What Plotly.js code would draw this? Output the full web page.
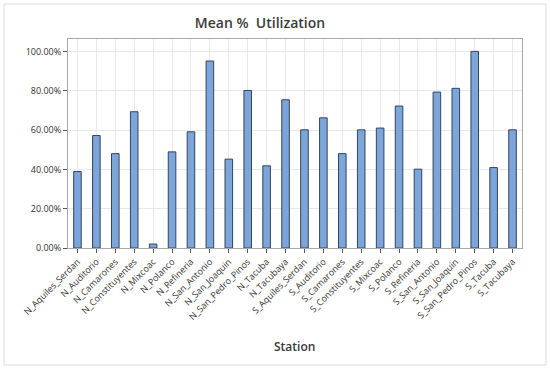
<!DOCTYPE html>
<html>
<head>
<meta charset="utf-8">
<script src="https://cdn.plot.ly/plotly-3.0.1.min.js"></script>
<style>html,body{margin:0;padding:0;background:#fff;}#chart{width:550px;height:369px;}</style>
</head>
<body>
<div id="chart"></div>
<script>
const stations = [
  "N_Aquiles_Serdan","N_Auditorio","N_Camarones","N_Constituyentes","N_Mixcoac","N_Polanco",
  "N_Refineria","N_San_Antonio","N_San_Joaquin","N_San_Pedro_Pinos","N_Tacuba","N_Tacubaya",
  "S_Aquiles_Serdan","S_Auditorio","S_Camarones","S_Constituyentes","S_Mixcoac","S_Polanco",
  "S_Refineria","S_San_Antonio","S_San_Joaquin","S_San_Pedro_Pinos","S_Tacuba","S_Tacubaya"
];
const meanUtilization = [
  38.9, 57.2, 48.0, 69.3, 2.0, 48.9,
  59.1, 95.1, 45.2, 80.1, 41.8, 75.4,
  60.1, 66.2, 48.0, 60.1, 61.0, 72.2,
  40.1, 79.3, 81.2, 100.0, 40.9, 60.1
];
const yTicks = [0, 20, 40, 60, 80, 100];
const yTickLabels = ["0.00%", "20.00%", "40.00%", "60.00%", "80.00%", "100.00%"];

const font = "Open Sans, Noto Sans, DejaVu Sans, sans-serif";

const trace = {
  type: "bar",
  x: stations,
  y: meanUtilization,
  width: 0.4,
  marker: { color: "#7ca5d9", line: { color: "#34445e", width: 1 } },
  hoverinfo: "x+y"
};

const layout = {
  width: 550,
  height: 369,
  margin: { l: 68, r: 28, t: 39, b: 121 },
  paper_bgcolor: "#ffffff",
  plot_bgcolor: "#ffffff",
  showlegend: false,
  font: { family: font, color: "#333333", size: 9 },
  title: {
    text: "Mean %  Utilization",
    font: { family: font, size: 14, color: "#3a3a3a", weight: 600 },
    xref: "container", yref: "container",
    x: 260 / 550, xanchor: "center",
    y: 1 - 23 / 369, yanchor: "middle"
  },
  xaxis: {
    type: "category",
    range: [-0.5, 23.5],
    showgrid: true,
    gridcolor: "#e8e8e8",
    gridwidth: 1,
    showline: true,
    linecolor: "#a8a8a8",
    linewidth: 1,
    mirror: true,
    ticks: "outside",
    ticklen: 4,
    tickcolor: "#555555",
    tickangle: -45,
    tickfont: { family: font, size: 9, color: "#333333" },
    zeroline: false
  },
  yaxis: {
    range: [0, 106.3],
    tickvals: yTicks,
    ticktext: yTickLabels,
    showgrid: true,
    gridcolor: "#e8e8e8",
    gridwidth: 1,
    showline: true,
    linecolor: "#a8a8a8",
    linewidth: 1,
    mirror: true,
    ticks: "outside",
    ticklen: 4,
    tickcolor: "#555555",
    tickfont: { family: font, size: 9, color: "#333333" },
    zeroline: false
  },
  annotations: [
    {
      text: "Station",
      xref: "paper", yref: "paper",
      x: (294 - 68) / 454, y: (248 - 346) / 209,
      xanchor: "center", yanchor: "middle",
      showarrow: false,
      font: { family: font, size: 12, color: "#3a3a3a", weight: 600 }
    }
  ],
  shapes: [
    {
      type: "rect", xref: "paper", yref: "paper",
      x0: (4 - 68) / 454, x1: (546 - 68) / 454,
      y0: (248 - 365) / 209, y1: (248 - 4) / 209,
      line: { color: "#dcdcdc", width: 1 },
      fillcolor: "rgba(0,0,0,0)",
      layer: "below"
    }
  ]
};

Plotly.newPlot("chart", [trace], layout, { displayModeBar: false, staticPlot: true });
</script>
</body>
</html>
